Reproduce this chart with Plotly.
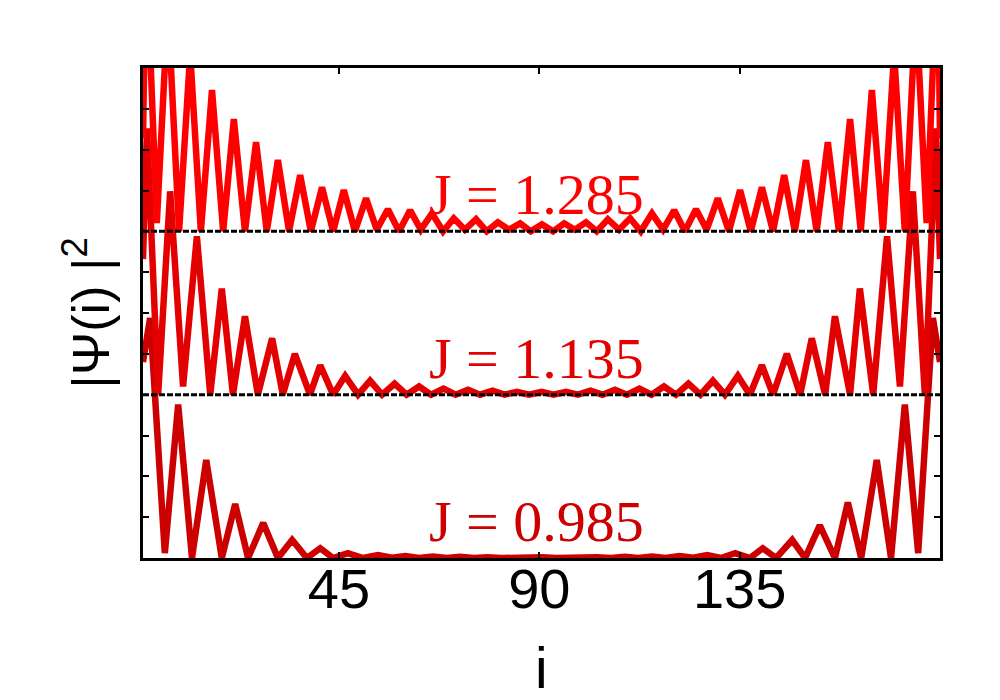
import plotly.graph_objects as go

# site index of the zigzag vertices and |psi|^2 (one panel height = 1)
J_values = [0.985, 1.135, 1.285]
offsets = [0, 1, 2]
line_colors = ['#cc0000', '#e30000', '#ff0000']

x_j0985 = [1.0, 2.6, 5.9, 8.9, 12.0, 15.2, 18.7, 21.7, 24.6, 28.0, 31.3, 34.5, 37.8,
           40.8, 43.7, 47.0, 50.4, 53.8, 56.9, 59.9, 63.0, 66.1, 69.2, 72.2, 75.3,
           78.4, 81.5, 84.5, 87.6, 90.7, 93.8, 96.9, 99.9, 103.0, 106.1, 109.2, 112.2,
           115.3, 118.4, 121.5, 124.6, 127.7, 130.8, 134.0, 137.3, 140.2, 143.2, 146.8,
           149.7, 153.0, 156.4, 159.3, 162.3, 165.8, 169.0, 172.1, 175.1, 178.4, 180.0]
y_j0985 = [1.20, 1.47, 0.03, 0.94, 0.0, 0.60, 0.0, 0.33, 0.0, 0.215, 0.0, 0.11, 0.0,
           0.06, 0.0, 0.03, 0.0, 0.018, 0.002, 0.012, 0.0, 0.009, 0.0, 0.007, 0.0,
           0.005, 0.0, 0.004, 0.0, 0.004, 0.0, 0.004, 0.0, 0.005, 0.0, 0.007, 0.0,
           0.009, 0.0, 0.012, 0.002, 0.018, 0.0, 0.03, 0.0, 0.06, 0.0, 0.11, 0.0,
           0.20, 0.0, 0.34, 0.0, 0.60, 0.0, 0.94, 0.03, 1.47, 1.20]

x_j1135 = [1.0, 1.9, 4.4, 7.1, 10.0, 13.1, 16.1, 18.7, 21.2, 23.9, 26.8, 30.0, 32.4,
           35.1, 38.5, 40.8, 43.7, 46.4, 49.3, 52.0, 54.7, 57.5, 60.2, 63.0, 65.7,
           68.5, 71.2, 74.0, 76.7, 79.5, 82.2, 85.0, 87.7, 90.5, 93.2, 96.0, 98.7,
           101.5, 104.2, 107.0, 109.7, 112.5, 115.2, 118.0, 120.7, 123.5, 126.2, 129.0,
           131.7, 134.6, 137.3, 140.0, 142.5, 145.6, 148.6, 151.2, 154.2, 156.4, 159.8,
           162.0, 165.0, 168.1, 171.0, 173.9, 176.6, 179.1, 180.0]
y_j1135 = [0.83, 1.63, 0.0, 1.245, 0.05, 0.97, 0.0, 0.65, 0.0, 0.48, 0.0, 0.345, 0.0,
           0.25, 0.0, 0.18, 0.0, 0.115, 0.0, 0.085, 0.0, 0.067, 0.0, 0.05, 0.0,
           0.037, 0.0, 0.03, 0.0, 0.025, 0.0, 0.018, 0.0, 0.018, 0.0, 0.018, 0.0,
           0.025, 0.0, 0.03, 0.0, 0.037, 0.0, 0.05, 0.0, 0.067, 0.0, 0.085,
           0.0, 0.115, 0.0, 0.18, 0.0, 0.25, 0.0, 0.345, 0.0, 0.48, 0.0,
           0.65, 0.0, 0.97, 0.05, 1.245, 0.0, 1.63, 0.83]

x_j1285 = [1.0, 1.7, 4.1, 6.6, 9.1, 11.6, 14.0, 16.5, 19.0, 21.4, 23.9, 26.4, 28.8,
           31.3, 33.8, 36.3, 38.7, 41.2, 43.7, 46.1, 48.6, 51.1, 53.5, 56.0, 58.5,
           61.0, 63.4, 65.9, 68.4, 70.8, 73.3, 75.8, 78.2, 80.7, 83.2, 85.7, 88.1,
           90.6, 93.1, 95.6, 98.0, 100.5, 102.9, 105.4, 107.9, 110.4, 112.8, 115.3,
           117.8, 120.3, 122.7, 125.2, 127.6, 130.1, 132.6, 135.1, 137.5, 140.0, 142.5,
           145.0, 147.4, 149.9, 152.3, 154.8, 157.3, 159.8, 162.2, 164.7, 167.2, 169.7,
           172.1, 174.6, 177.0, 179.5, 180.0]
y_j1285 = [0.57, 1.75, 0.05, 1.38, 0.0, 1.09, 0.0, 0.865, 0.0, 0.687, 0.0, 0.546, 0.0,
           0.436, 0.0, 0.344, 0.0, 0.270, 0.0, 0.252, 0.0, 0.202, 0.01, 0.135, 0.0,
           0.129, 0.01, 0.110, 0.0, 0.080, 0.01, 0.074, 0.0, 0.055, 0.01, 0.049, 0.0,
           0.043, 0.0, 0.049, 0.01, 0.055, 0.0, 0.074, 0.01, 0.080, 0.0, 0.110,
           0.01, 0.129, 0.0, 0.135, 0.01, 0.202, 0.0, 0.252, 0.0, 0.270, 0.0,
           0.344, 0.0, 0.436, 0.0, 0.546, 0.0, 0.687, 0.0, 0.865, 0.0, 1.09,
           0.0, 1.38, 0.05, 1.75, 0.57]

xs = [x_j0985, x_j1135, x_j1285]
ys = [y_j0985, y_j1135, y_j1285]

x_ticks = [45, 90, 135]
y_ticks = [0.25, 0.5, 0.75, 1.25, 1.5, 1.75, 2.25, 2.5, 2.75]

fig = go.Figure()
for x, y, off, col in zip(xs, ys, offsets, line_colors):
    fig.add_trace(go.Scatter(x=x, y=[v + off for v in y], mode='lines',
                             line=dict(color=col, width=6.5), showlegend=False))

# dashed baselines between the panels
for off in offsets[1:]:
    fig.add_shape(type='line', xref='paper', x0=0, x1=1, y0=off, y1=off,
                  line=dict(color='black', width=3, dash='6px,2px'), layer='above')

for J, off, col in zip(J_values, offsets, line_colors):
    fig.add_annotation(x=0.494, xref='paper', y=off, yref='y', text='J = %.3f' % J,
                       showarrow=False, yanchor='bottom', xanchor='center', yshift=2,
                       font=dict(family='Liberation Serif', size=58, color=col))

# x axis title
fig.add_annotation(x=0.5, xref='paper', y=0, yref='paper', text='i', showarrow=False,
                   yanchor='top', yshift=-76, font=dict(size=57, color='black'))

fig.update_layout(
    width=1000, height=700,
    margin=dict(l=135, r=68, t=60, b=150),
    paper_bgcolor='white', plot_bgcolor='white',
    font=dict(family='Liberation Sans', color='black'),
    xaxis=dict(range=[1, 180], tickvals=x_ticks, ticks='inside', ticklen=6, tickwidth=2,
               tickcolor='black', showline=True, linewidth=3, linecolor='black',
               mirror='ticks', showgrid=False, zeroline=False, automargin=False,
               tickfont=dict(size=56), ticklabelstandoff=-20),
    yaxis=dict(range=[0, 3], tickvals=y_ticks, showticklabels=False, ticks='inside',
               ticklen=6, tickwidth=2, tickcolor='black', showline=True, linewidth=3,
               linecolor='black', mirror='ticks', showgrid=False, zeroline=False,
               automargin=False,
               title=dict(text='|Ψ(i) |<sup>2</sup>', font=dict(size=52), standoff=14)),
)

fig.write_html("out.html")
